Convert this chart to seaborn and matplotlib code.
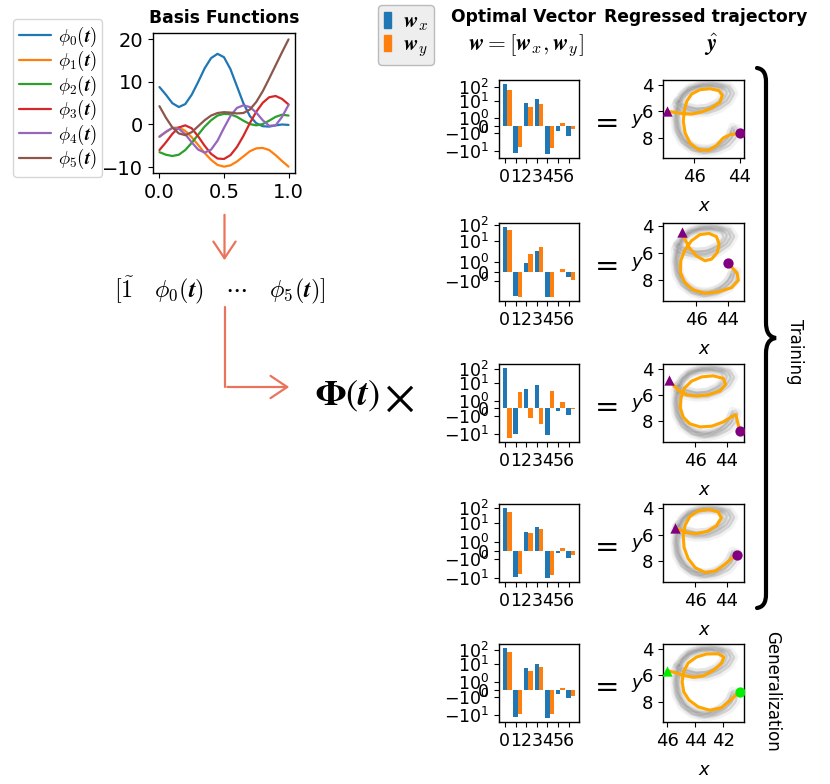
import numpy as np
import pandas as pd
import matplotlib
matplotlib.use("Agg")
import matplotlib.pyplot as plt
import seaborn as sns
import matplotlib.transforms as mtrans
from matplotlib.ticker import FixedLocator, FuncFormatter, NullLocator
from matplotlib.patches import FancyArrowPatch, PathPatch, Patch
from matplotlib.path import Path
from matplotlib.lines import Line2D

# ---------------- data ----------------
t_vals = [0.00, 0.05, 0.10, 0.15, 0.20, 0.25, 0.30, 0.35, 0.40, 0.45, 0.50,
          0.55, 0.60, 0.65, 0.70, 0.75, 0.80, 0.85, 0.90, 0.95, 1.00]
phi0 = [8.8, 7.0, 5.0, 4.1, 4.8, 7.0, 10.0, 13.2, 15.6, 16.6, 15.8,
        13.0, 9.0, 5.0, 2.0, 0.3, -0.4, -0.5, -0.2, 0.0, -0.1]
phi1 = [-2.8, -1.8, -0.8, -0.7, -1.5, -3.0, -4.8, -6.7, -8.3, -9.5, -9.9,
        -9.6, -8.7, -7.5, -6.3, -5.6, -5.5, -6.0, -7.2, -8.6, -9.9]
phi2 = [-6.5, -7.1, -7.4, -7.1, -6.0, -4.3, -2.4, -0.5, 1.0, 2.1, 2.5,
        2.4, 1.8, 0.9, 0.1, -0.2, 0.1, 0.9, 1.8, 2.3, 2.1]
phi3 = [-6.0, -4.2, -2.2, -0.7, -0.2, -0.9, -2.8, -5.0, -6.9, -8.0, -8.1,
        -7.2, -5.3, -2.7, 0.3, 3.0, 5.1, 6.4, 6.7, 6.0, 4.7]
phi4 = [-2.9, -1.7, -0.8, -1.0, -2.3, -4.2, -5.9, -6.6, -5.9, -3.8, -0.8,
        2.0, 3.9, 4.5, 4.1, 2.8, 1.0, -0.3, -0.2, 1.8, 4.6]
phi5 = [4.3, 1.6, -0.7, -2.1, -2.5, -1.8, -0.4, 1.0, 2.1, 2.7, 2.9,
        2.8, 2.6, 2.7, 3.5, 5.3, 7.8, 10.8, 13.9, 17.0, 20.0]
basis_labels = [r'$\phi_%d(\boldsymbol{t})$' % i for i in range(6)]
basis_yticks = [-10, 0, 10, 20]
basis_xticks = [0.0, 0.5, 1.0]

bar_index = [0, 1, 2, 3, 4, 5, 6]
wx_rows = [[190, -16.3, 7.4, 15.3, -19.3, -0.71, -1.31],
           [77, -4.6, 0.89, 2.64, -5.25, -0.03, -0.57],
           [126, -10.5, 3.8, 7.6, -12.3, -0.34, -0.89],
           [111, -8.0, 2.9, 6.1, -10.3, -0.23, -0.82],
           [141, -14.5, 5.2, 10.5, -17.0, -0.55, -1.05]]
wy_rows = [[69, -5.9, 3.8, 5.8, -6.7, 0.39, -0.45],
           [51, -5.5, 1.9, 4.6, -5.4, 0.25, -0.89],
           [-21, 2.2, -1.23, -1.94, 2.9, 0.89, -0.08],
           [55, -5.4, 2.5, 4.6, -6.2, 0.35, -0.51],
           [65, -8.0, 3.2, 5.8, -8.9, 0.22, -0.76]]
bar_yticks = [-10, -1, 0, 1, 10, 100]

traj_x = [
    [47.21, 46.85, 46.48, 46.11, 45.68, 45.24, 44.87, 44.77, 44.92, 45.31, 45.75, 46.11,
     46.33, 46.44, 46.48, 46.40, 46.19, 45.82, 45.38, 45.02, 44.73, 44.43, 43.99],
    [46.88, 46.71, 46.44, 45.98, 45.44, 45.02, 44.66, 44.54, 44.71, 45.17, 45.76, 46.29,
     46.71, 46.97, 46.99, 46.71, 46.19, 45.44, 44.60, 43.75, 43.33, 43.40, 43.69, 44.00],
    [47.64, 47.37, 47.01, 46.53, 45.90, 45.16, 44.42, 44.07, 44.21, 44.85, 45.58, 46.21,
     46.68, 46.89, 46.93, 46.74, 46.32, 45.68, 44.95, 44.21, 43.65, 43.42, 43.33, 43.16],
    [47.26, 46.90, 46.49, 45.87, 45.21, 44.65, 44.34, 44.55, 45.16, 45.82, 46.33, 46.64,
     46.74, 46.69, 46.44, 45.98, 45.36, 44.70, 44.14, 43.68, 43.35],
    [46.02, 45.47, 44.87, 44.16, 43.44, 42.72, 42.12, 41.96, 42.36, 43.20, 43.92, 44.52,
     44.83, 44.94, 44.83, 44.45, 43.80, 42.96, 42.12, 41.48, 41.09, 40.81]]
traj_y = [
    [6.00, 6.08, 6.18, 6.21, 6.05, 5.75, 5.29, 4.79, 4.43, 4.28, 4.36, 4.68,
     5.24, 6.00, 6.76, 7.65, 8.41, 8.92, 8.97, 8.59, 8.03, 7.78, 7.68],
    [4.47, 4.97, 5.58, 6.21, 6.57, 6.45, 5.96, 5.34, 4.79, 4.55, 4.64, 5.09,
     5.78, 6.57, 7.44, 8.18, 8.72, 8.97, 8.87, 8.55, 8.01, 7.51, 7.12, 6.77],
    [4.88, 5.25, 5.70, 6.00, 6.08, 6.00, 5.70, 5.20, 4.75, 4.55, 4.63, 4.95,
     5.50, 6.25, 7.00, 7.70, 8.20, 8.43, 8.38, 8.05, 7.63, 7.50, 8.00, 8.76],
    [5.50, 5.69, 5.87, 5.93, 5.75, 5.34, 4.75, 4.29, 4.11, 4.23, 4.64, 5.34,
     6.16, 6.98, 7.80, 8.51, 8.86, 8.74, 8.27, 7.80, 7.53],
    [5.63, 5.78, 5.99, 6.14, 6.04, 5.63, 5.07, 4.61, 4.36, 4.38, 4.61, 5.07,
     5.71, 6.47, 7.24, 7.87, 8.38, 8.64, 8.44, 7.87, 7.49, 7.24]]
traj_xlim = [(47.37, 43.82), (48.09, 42.97), (48.02, 42.91), (48.02, 42.91), (46.31, 40.52)]
traj_ylim = [(9.55, 3.62), (9.54, 3.78), (9.58, 3.65), (9.58, 3.70), (9.53, 3.62)]
traj_xticks = [42, 44, 46]
traj_yticks = [4, 6, 8]
marker_colors = ['purple', 'purple', 'purple', 'purple', '#00ee00']

# demonstrations, normalised to the plotting frame (u: left->right, v: top->bottom)
demo_u = [
    [0.16, 0.25, 0.38, 0.52, 0.66, 0.78, 0.84, 0.80, 0.66, 0.50, 0.36, 0.25, 0.19, 0.16,
     0.17, 0.22, 0.32, 0.46, 0.62, 0.76, 0.85, 0.88],
    [0.18, 0.28, 0.42, 0.56, 0.68, 0.75, 0.72, 0.60, 0.45, 0.33, 0.24, 0.20, 0.19, 0.22,
     0.30, 0.42, 0.56, 0.70, 0.80, 0.84],
    [0.14, 0.24, 0.40, 0.56, 0.70, 0.82, 0.88, 0.82, 0.66, 0.48, 0.32, 0.22, 0.16, 0.14,
     0.16, 0.23, 0.36, 0.52, 0.68, 0.82, 0.90, 0.92],
    [0.17, 0.27, 0.40, 0.54, 0.67, 0.76, 0.79, 0.72, 0.58, 0.44, 0.31, 0.23, 0.18, 0.17,
     0.19, 0.26, 0.37, 0.50, 0.64, 0.76, 0.83, 0.86]]
demo_v = [
    [0.30, 0.36, 0.40, 0.40, 0.35, 0.27, 0.18, 0.10, 0.06, 0.06, 0.10, 0.18, 0.30, 0.45,
     0.60, 0.74, 0.85, 0.91, 0.90, 0.83, 0.74, 0.64],
    [0.26, 0.33, 0.37, 0.35, 0.28, 0.19, 0.11, 0.08, 0.09, 0.14, 0.24, 0.38, 0.53, 0.68,
     0.80, 0.87, 0.88, 0.83, 0.74, 0.66],
    [0.34, 0.40, 0.43, 0.42, 0.37, 0.28, 0.17, 0.08, 0.04, 0.05, 0.10, 0.20, 0.34, 0.50,
     0.66, 0.80, 0.90, 0.94, 0.91, 0.84, 0.74, 0.62],
    [0.28, 0.34, 0.37, 0.36, 0.31, 0.23, 0.15, 0.09, 0.07, 0.08, 0.13, 0.22, 0.35, 0.50,
     0.64, 0.77, 0.86, 0.90, 0.87, 0.79, 0.70, 0.60]]

# ---------------- style ----------------
sns.set_style("ticks")
plt.rcParams['font.family'] = ['DejaVu Sans']
plt.rcParams['mathtext.fontset'] = 'cm'
plt.rcParams['axes.linewidth'] = 1.0
for key in ['text.color', 'axes.labelcolor', 'xtick.color', 'ytick.color',
            'axes.edgecolor', 'xtick.labelcolor', 'ytick.labelcolor']:
    plt.rcParams[key] = 'black'

W, H = 830, 784
fig = plt.figure(figsize=(W / 100, H / 100), dpi=100)
px = mtrans.Affine2D().scale(1 / W, -1 / H).translate(0, 1) + fig.transFigure


def add_ax(l, t, r, b):
    return fig.add_axes([l / W, 1 - b / H, (r - l) / W, (b - t) / H])


pal = sns.color_palette("tab10")

# ---------------- basis functions ----------------
basis_vals = [phi0, phi1, phi2, phi3, phi4, phi5]
df_basis = pd.DataFrame({
    't': np.tile(t_vals, 6),
    'value': np.concatenate(basis_vals),
    'basis': np.repeat(basis_labels, len(t_vals)),
})
axb = add_ax(153, 33, 295, 173)
sns.lineplot(data=df_basis, x='t', y='value', hue='basis', palette=pal[:6],
             ax=axb, linewidth=1.6, legend=False, sort=False)
axb.set_xlabel('')
axb.set_ylabel('')
axb.xaxis.set_major_locator(FixedLocator(basis_xticks))
axb.yaxis.set_major_locator(FixedLocator(basis_yticks))
axb.tick_params(labelsize=14)
axb.set_title('Basis Functions', fontweight='bold', fontsize=12.3, pad=7)
axb.legend(handles=axb.lines[:6], labels=basis_labels, loc='upper left',
           bbox_to_anchor=(13 / W, 1 - 19 / H), bbox_transform=fig.transFigure,
           borderaxespad=0, fontsize=13.5, handlelength=1.75, handletextpad=0.35,
           labelspacing=0.02, borderpad=0.3, frameon=True, edgecolor='#cccccc')

# ---------------- rows ----------------
row_tops = [80, 223, 364, 504, 644]
row_h = 78


def symfmt(v, pos):
    if v == 0:
        return r'$\mathdefault{0}$'
    k = int(round(np.log10(abs(v))))
    s = '-' if v < 0 else ''
    return r'$\mathdefault{%s10^{%d}}$' % (s, k)


idx = np.array(bar_index)
for r in range(5):
    top = row_tops[r]
    # bars
    ax = add_ax(499, top, 579, top + row_h)
    ax.bar(idx, wx_rows[r], width=0.42, color=pal[0], linewidth=0)
    ax.bar(idx + 0.42, wy_rows[r], width=0.42, color=pal[1], linewidth=0)
    ax.set_yscale('symlog', linthresh=2)
    ax.yaxis.set_major_locator(FixedLocator(bar_yticks))
    ax.yaxis.set_minor_locator(NullLocator())
    ax.yaxis.set_major_formatter(FuncFormatter(symfmt))
    ax.xaxis.set_major_locator(FixedLocator(bar_index))
    ax.set_xticklabels([str(i) for i in bar_index])
    ax.tick_params(labelsize=12.5)

    # trajectory
    axt = add_ax(663, top, 744, top + row_h)
    xl, yl = traj_xlim[r], traj_ylim[r]
    for u, v in zip(demo_u, demo_v):
        gx = xl[0] + np.array(u) * (xl[1] - xl[0])
        gy = yl[1] + np.array(v) * (yl[0] - yl[1])
        axt.plot(gx, gy, color='black', alpha=0.05, lw=6, solid_capstyle='round')
        axt.plot(gx, gy, color='0.35', alpha=0.14, lw=1.5)
    sns.lineplot(x=traj_x[r], y=traj_y[r], sort=False, estimator=None,
                 color='orange', lw=2.2, ax=axt)
    mc = marker_colors[r]
    sns.scatterplot(x=[traj_x[r][0]], y=[traj_y[r][0]], marker='^', s=55,
                    color=mc, linewidth=0, ax=axt, zorder=5)
    sns.scatterplot(x=[traj_x[r][-1]], y=[traj_y[r][-1]], marker='o', s=55,
                    color=mc, linewidth=0, ax=axt, zorder=5)
    axt.set_xlim(xl)
    axt.set_ylim(yl)
    axt.xaxis.set_major_locator(FixedLocator(traj_xticks))
    axt.yaxis.set_major_locator(FixedLocator(traj_yticks))
    axt.tick_params(labelsize=13)
    axt.set_xlabel('x', fontstyle='italic', fontsize=13, labelpad=8)
    axt.set_ylabel('y', fontstyle='italic', fontsize=13, rotation=0,
                   ha='right', va='center', labelpad=0)

    fig.text(607, top + row_h / 2 + 5, '=', transform=px, fontsize=21,
             ha='center', va='center')

# ---------------- headers / annotations ----------------
fig.text(523, 17, 'Optimal Vector', transform=px, fontsize=12.3,
         fontweight='bold', ha='center', va='center')
fig.text(526, 46, r'$\boldsymbol{w}=[\boldsymbol{w}_x,\boldsymbol{w}_y]$',
         transform=px, fontsize=16.5, ha='center', va='center')
fig.text(706, 17, 'Regressed trajectory', transform=px, fontsize=12.3,
         fontweight='bold', ha='center', va='center')
fig.text(711, 45, r'$\hat{\boldsymbol{y}}$', transform=px, fontsize=16.5,
         ha='center', va='center')

fig.legend(handles=[Patch(color=pal[0]), Patch(color=pal[1])],
           labels=[r'$\boldsymbol{w}_x$', r'$\boldsymbol{w}_y$'],
           loc='upper left', bbox_to_anchor=(378 / W, 1 - 5 / H), borderaxespad=0,
           fontsize=15.5, handlelength=0.3, handleheight=0.75, handletextpad=0.55,
           labelspacing=0.05, borderpad=0.3, frameon=True, facecolor='#eeeeee',
           edgecolor='#bbbbbb', framealpha=1.0)

fig.text(220, 290,
         r'$[\tilde{\mathbf{1}}\quad\phi_0(\boldsymbol{t})\quad\cdots\quad\phi_5(\boldsymbol{t})]$',
         transform=px, fontsize=17.5, ha='center', va='center')
fig.text(347, 396, r'$\boldsymbol{\Phi}(\boldsymbol{t})$', transform=px,
         fontsize=26, ha='center', va='center', math_fontfamily='stix')
fig.text(399, 398, r'$\times$', transform=px, fontsize=34, ha='center',
         va='center', math_fontfamily='stix')

acol = '#e9735b'
astyle = '->,head_length=0.6,head_width=0.4'
fig.patches.append(FancyArrowPatch((224.5, 212), (224.5, 263), transform=px,
                                   arrowstyle=astyle, mutation_scale=20,
                                   color=acol, lw=1.6))
fig.lines.append(Line2D([225, 225], [307, 387], transform=px, color=acol, lw=1.6))
fig.patches.append(FancyArrowPatch((224.5, 387), (292, 387), transform=px,
                                   arrowstyle=astyle, mutation_scale=20,
                                   color=acol, lw=1.6))

# brace
verts = [(757, 68), (763, 69), (766, 73), (766, 82), (766, 322),
         (766, 332), (769, 337), (776, 338),
         (769, 339), (766, 344), (766, 354), (766, 594),
         (766, 603), (763, 607), (757, 608)]
codes = [Path.MOVETO, Path.CURVE4, Path.CURVE4, Path.CURVE4, Path.LINETO,
         Path.CURVE4, Path.CURVE4, Path.CURVE4,
         Path.CURVE4, Path.CURVE4, Path.CURVE4, Path.LINETO,
         Path.CURVE4, Path.CURVE4, Path.CURVE4]
fig.patches.append(PathPatch(Path(verts, codes), transform=px, fill=False,
                             lw=3, edgecolor='black', capstyle='round'))

fig.text(795, 352, 'Training', transform=px, fontsize=12, rotation=-90,
         ha='center', va='center')
fig.text(772, 691, 'Generalization', transform=px, fontsize=12, rotation=-90,
         ha='center', va='center')

fig.savefig('out.png', dpi=100)
